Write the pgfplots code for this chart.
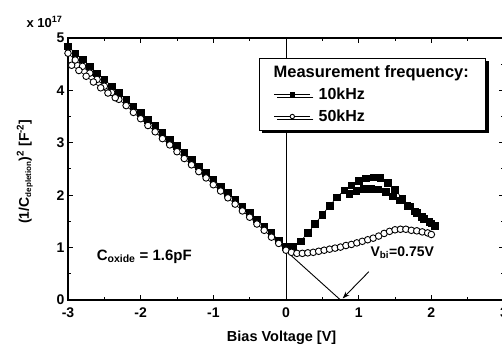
\documentclass[border=0pt]{standalone}
\usepackage{pgfplots}
\pgfplotsset{compat=1.18}
\usepackage{fontspec}
\setmainfont{Liberation Sans}
\usetikzlibrary{shadows,arrows.meta}
\begin{document}
\begin{tikzpicture}
\begin{axis}[
  at={(0,0)}, anchor=south west,
  scale only axis, width=436pt, height=262pt,
  xmin=-3, xmax=3, ymin=0, ymax=5,
  xtick={-3,-2,-1,0,1,2,3}, ytick={0,1,2,3,4,5},
  minor x tick num=1, minor y tick num=1,
  major tick length=5pt, minor tick length=3pt,
  axis line style={line width=1.3pt},
  every tick/.style={line width=1pt, black},
  tick label style={font=\fontsize{14}{16}\selectfont\bfseries},
  x tick label style={yshift=-4pt},
  /pgf/number format/assume math mode=true,
  xlabel={Bias Voltage [V]},
  xlabel style={font=\fontsize{14.5}{17}\selectfont\bfseries, at={(axis description cs:0.49,-0.143)}, anchor=center},
  ylabel={(1/C\textsubscript{\fontsize{8}{9}\selectfont depletion})\textsuperscript{2} [F\textsuperscript{-2}]},
  ylabel style={font=\fontsize{14}{16}\selectfont\bfseries, at={(axis description cs:-0.099,0.49)}, anchor=center},
  legend image code/.code={\draw[mark repeat=2,mark phase=2,#1] plot coordinates {(0pt,0pt) (18pt,0pt) (36pt,0pt)};},
  legend cell align=left,
  legend style={at={(axis description cs:0.437,0.924)}, anchor=north west,
    draw=black, line width=1pt, fill=white,
    drop shadow={shadow xshift=3pt, shadow yshift=-3pt, fill=black, opacity=1},
    font=\fontsize{16}{18}\selectfont\bfseries,
    inner xsep=15pt, inner ysep=5pt, row sep=5pt,
    /tikz/every odd column/.append style={column sep=6pt}},
]
\addplot[black, line width=0.9pt, forget plot] coordinates {(0,0) (0,5)};
\addplot[black, line width=0.9pt, forget plot] coordinates {(-0.05,1.0) (0.75,0)};

\addlegendimage{empty legend}
\addlegendentry{\hspace*{-45pt}\fontsize{16.5}{19}\selectfont Measurement frequency:}

\addplot[black, line width=0.6pt, mark=square*, mark size=3.3pt, mark options={solid},
  legend image post style={mark size=2.2pt}] coordinates {
(-3.0,4.84)(-2.9,4.71)(-2.8,4.59)(-2.7,4.46)(-2.6,4.33)(-2.5,4.21)(-2.4,4.08)(-2.3,3.95)(-2.2,3.82)(-2.1,3.70)(-2.0,3.57)(-1.9,3.44)(-1.8,3.32)(-1.7,3.19)(-1.6,3.06)(-1.5,2.94)(-1.4,2.81)(-1.3,2.68)(-1.2,2.55)(-1.1,2.43)(-1.0,2.30)(-0.9,2.17)(-0.8,2.05)(-0.7,1.92)(-0.6,1.79)(-0.5,1.67)(-0.4,1.54)(-0.3,1.41)(-0.2,1.28)(-0.1,1.14)(0.0,1.02)(0.1,1.02)(0.2,1.12)(0.3,1.28)(0.4,1.45)(0.5,1.63)(0.6,1.80)(0.7,1.96)(0.8,2.09)(0.9,2.19)(1.0,2.27)(1.1,2.32)(1.2,2.34)(1.3,2.33)(1.4,2.24)(1.5,2.10)(1.6,1.94)(1.7,1.79)(1.8,1.66)(1.9,1.55)(2.0,1.46)(2.05,1.42)(1.97,1.49)(1.87,1.59)(1.77,1.69)(1.67,1.80)(1.57,1.90)(1.47,1.98)(1.37,2.06)(1.27,2.11)(1.17,2.12)(1.07,2.12)(0.97,2.08)(0.87,2.03)
};
\addlegendentry{10kHz}

\addplot[black, line width=0.6pt, mark=*, mark size=3.3pt, mark options={solid, fill=white, line width=0.9pt},
  legend image post style={mark size=2.2pt}] coordinates {
(-3.0,4.71)(-2.9,4.58)(-2.8,4.46)(-2.7,4.33)(-2.6,4.21)(-2.5,4.08)(-2.4,3.96)(-2.3,3.83)(-2.2,3.71)(-2.1,3.58)(-2.0,3.46)(-1.9,3.33)(-1.8,3.21)(-1.7,3.08)(-1.6,2.96)(-1.5,2.83)(-1.4,2.70)(-1.3,2.58)(-1.2,2.45)(-1.1,2.33)(-1.0,2.20)(-0.9,2.08)(-0.8,1.95)(-0.7,1.83)(-0.6,1.70)(-0.5,1.58)(-0.4,1.45)(-0.3,1.33)(-0.2,1.20)(-0.1,1.08)(0.0,0.95)(0.075,0.91)(0.15,0.89)(0.225,0.89)(0.3,0.90)(0.375,0.91)(0.45,0.93)(0.525,0.95)(0.6,0.97)(0.675,0.99)(0.75,1.01)(0.825,1.04)(0.9,1.06)(0.975,1.09)(1.05,1.12)(1.125,1.15)(1.2,1.18)(1.275,1.22)(1.35,1.27)(1.425,1.31)(1.5,1.34)(1.575,1.35)(1.65,1.35)(1.725,1.33)(1.8,1.32)(1.875,1.30)(1.95,1.28)(2.0,1.25)
};
\addlegendentry{50kHz}

\addplot[black, line width=0.6pt, mark=*, mark size=3.3pt, mark options={solid, fill=white, line width=0.9pt}, forget plot] coordinates {
(-2.95,4.48)(-2.85,4.38)(-2.75,4.27)(-2.65,4.16)(-2.55,4.05)(-2.45,3.95)(-2.35,3.86)
};

\draw[line width=0.9pt, -{Stealth[length=7pt,width=5pt]}] (axis cs:1.14,0.54) -- (axis cs:0.78,0.03);
\node[font=\fontsize{15}{17}\selectfont\bfseries] at (axis cs:-1.95,0.83) {C\textsubscript{oxide} = 1.6pF};
\node[font=\fontsize{14}{16}\selectfont\bfseries] at (axis cs:1.6,0.9) {V\textsubscript{bi}=0.75V};
\end{axis}
\node[font=\fontsize{13}{15}\selectfont\bfseries, anchor=west] at (-45pt,278pt) {x 10\textsuperscript{17}};
\pgfresetboundingbox
\path[use as bounding box] (-68pt,-47pt) rectangle (434pt,300pt);
\end{tikzpicture}
\end{document}
